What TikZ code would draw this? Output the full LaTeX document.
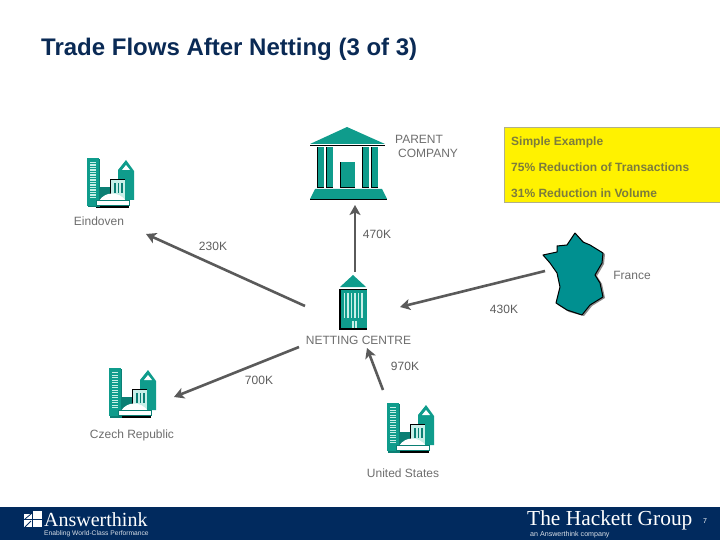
\documentclass[tikz,border=0pt]{standalone}
\usepackage{fontspec}
\setmainfont{Liberation Sans}
\newfontfamily\logofont{Liberation Serif}
\usetikzlibrary{arrows.meta,positioning}
\definecolor{navy}{HTML}{012A5E}
\definecolor{titleblue}{HTML}{0A2A55}
\definecolor{tealicon}{HTML}{0F9C8C}
\definecolor{tealdark}{HTML}{0B7F74}
\definecolor{tealpale}{HTML}{C8EFE8}
\definecolor{franceteal}{HTML}{009090}
\definecolor{lbl}{HTML}{6E6E6E}
\definecolor{flow}{HTML}{5A5A5A}
\definecolor{olive}{HTML}{7C7C3C}
\tikzset{
  citypic/.pic={
    \fill[black] (9,46) rectangle (42,50);
    \fill[tealdark] (0.8,1) rectangle (13,49.5);
    \fill[tealicon] (0,0) rectangle (12,48);
    \foreach \yy in {4,6.5,...,41} \fill[tealpale] (3,\yy) rectangle (9,\yy+1.3);
    \fill[tealdark] (12,29) rectangle (25,42);
    \fill[tealicon] (39,2) -- (47,13) -- (47,42) -- (31,42) -- (31,12) -- cycle;
    \fill[white] (39,7) -- (43,12) -- (35,12) -- cycle;
    \fill[black] (23,21) rectangle (38,42);
    \fill[tealpale] (24,22) rectangle (38,42);
    \foreach \xx in {27,30.5,34} \fill[tealdark] (\xx,25) rectangle (\xx+1.8,35);
    \fill[white] (12,43) .. controls (18,33) and (32,33) .. (39,43) -- cycle;
    \fill[white,draw=tealdark,line width=0.5pt] (9,42.5) rectangle (42,47.5);
  },
  towerpic/.pic={
    \fill[tealicon] (14,0) -- (27,12) -- (1,12) -- cycle;
    \fill[black] (0,14) rectangle (28,55);
    \fill[tealicon] (1.5,15) rectangle (28,53);
    \foreach \xx in {4.5,8,...,22} \fill[tealpale] (\xx,18) rectangle (\xx+1.9,43);
    \fill[tealpale] (12.5,46) rectangle (18,53);
    \fill[tealicon] (14.7,46) rectangle (15.7,53);
  },
  bankpic/.pic={
    \fill[tealicon] (37,0) -- (75,17) -- (0,17) -- cycle;
    \draw[black,line width=0.7pt] (0,18) -- (75,18);
    \foreach \xx in {8,17,53,62} {
      \fill[black] (\xx-0.8,20) rectangle (\xx+6,61);
      \fill[tealicon] (\xx,20) rectangle (\xx+6,60.5);
    }
    \fill[black] (30.2,35) rectangle (45,61);
    \fill[tealicon] (31,35) rectangle (45,60.5);
    \fill[tealicon] (5,62) -- (72,62) -- (77,72) -- (0,72) -- cycle;
    \draw[black,line width=0.7pt] (0,72) -- (77,72);
  }
}
\begin{document}
\begin{tikzpicture}[x=1pt,y=-1pt,>=Stealth,font=\fontsize{12}{14}\selectfont]
\tikzstyle{lab}=[text=lbl,inner sep=0pt]
\tikzstyle{num}=[lab,text=lbl!85!black]
\tikzstyle{info}=[text=olive,font=\fontsize{12}{14}\selectfont\bfseries,inner sep=0pt,anchor=west]
\tikzstyle{flowline}=[draw=flow,line width=2.6pt,-{Stealth[length=10pt,width=11pt,inset=2.5pt]}]
\useasboundingbox (0,0) rectangle (720,540);
\fill[white] (0,0) rectangle (720,540);
% title
\node[text=titleblue,font=\fontsize{24}{28}\selectfont\bfseries,inner sep=0pt,anchor=west] (title) at (41,49) {Trade Flows After Netting (3 of 3)};
% summary box
\node[draw=olive!60,line width=0.8pt,fill=yellow,minimum width=216pt,minimum height=75pt,anchor=north west,inner sep=0pt] (summary) at (504,127) {};
\node[info] (simple) at (511,142) {Simple Example};
\node[info] (trans) at (511,167) {75\% Reduction of Transactions};
\node[info] (volume) at (511,193) {31\% Reduction in Volume};
% icons
\pic at (310,127) {bankpic};
\pic at (87,158) {citypic};
\pic at (339,275) {towerpic};
\pic at (109,368) {citypic};
\pic at (387,403) {citypic};
\fill[black!45] (577,235) -- (585,243) -- (592,246) -- (605,254) -- (604,264) -- (597,276) -- (602,284) -- (605,298) -- (592,306) -- (584,316) -- (569,312) -- (558,305) -- cycle;
\draw[black,line width=1pt,fill=franceteal,line join=round] (575,233) -- (583,242) -- (590,245) -- (603,253) -- (602,263) -- (595,275) -- (600,283) -- (603,297) -- (590,305) -- (582,315) -- (567,310) -- (556,303) -- (560,287) -- (557,273) -- (550,263) -- (543,255) -- (557,252) -- (557,246) -- (567,245) -- cycle;
% labels
\node[lab,align=left,anchor=north west] (parent) at (395,135) {PARENT\\[0pt]\hspace*{3pt}COMPANY};
\node[lab] (eindoven) at (99,221) {Eindoven};
\node[lab] (france) at (632,275) {France};
\node[lab] (netting) at (358.5,340) {NETTING CENTRE};
\node[lab] (czech) at (132,435) {Czech Republic};
\node[lab] (us) at (403,473) {United States};
\node[num] (a) at (213,246) {230K};
\node[num] (b) at (377,234) {470K};
\node[num] (c) at (504,309) {430K};
\node[num] (d) at (405,366) {970K};
\node[num] (e) at (259,380) {700K};
% flows
\coordinate (nettop) at (355,272);
\coordinate (bankfoot) at (355,205);
\coordinate (netleft) at (305,306);
\coordinate (eindtip) at (146,234);
\coordinate (frwest) at (545,271);
\coordinate (netright) at (400,307);
\coordinate (netlow) at (299,347);
\coordinate (czechtip) at (174,397);
\coordinate (usnorth) at (383,390);
\coordinate (nettip) at (367,348);
\draw[flowline] (nettop) -- (bankfoot);
\draw[flowline] (netleft) -- (eindtip);
\draw[flowline] (frwest) -- (netright);
\draw[flowline] (netlow) -- (czechtip);
\draw[flowline] (usnorth) -- (nettip);
% footer
\fill[navy] (0,507) rectangle (720,540);
\fill[white] (33,511) rectangle (42,519);
\fill[white] (24,514) rectangle (32,519);
\fill[white] (24,520) rectangle (32,527);
\fill[white] (33,520) rectangle (42,527);
\draw[navy,line width=0.8pt] (25,519) -- (31,514) (25,527) -- (31,521);
\node[text=white,font=\logofont\fontsize{20}{21}\selectfont,inner sep=0pt,anchor=west] (answer) at (44,520) {Answerthink};
\node[text=white!85!navy,font=\fontsize{6.7}{7}\selectfont,inner sep=0pt,anchor=west] (enable) at (44,534) {Enabling World-Class Performance};
\node[text=white,font=\logofont\fontsize{21.4}{22}\selectfont,inner sep=0pt,anchor=west] (hackett) at (527,520) {The Hackett Group};
\node[text=white!85!navy,font=\fontsize{7.1}{8}\selectfont,inner sep=0pt,anchor=west] (company) at (530,534.5) {an Answerthink company};
\node[text=white,font=\fontsize{7}{8}\selectfont,inner sep=0pt] (pageno) at (705,521) {7};
\end{tikzpicture}
\end{document}
